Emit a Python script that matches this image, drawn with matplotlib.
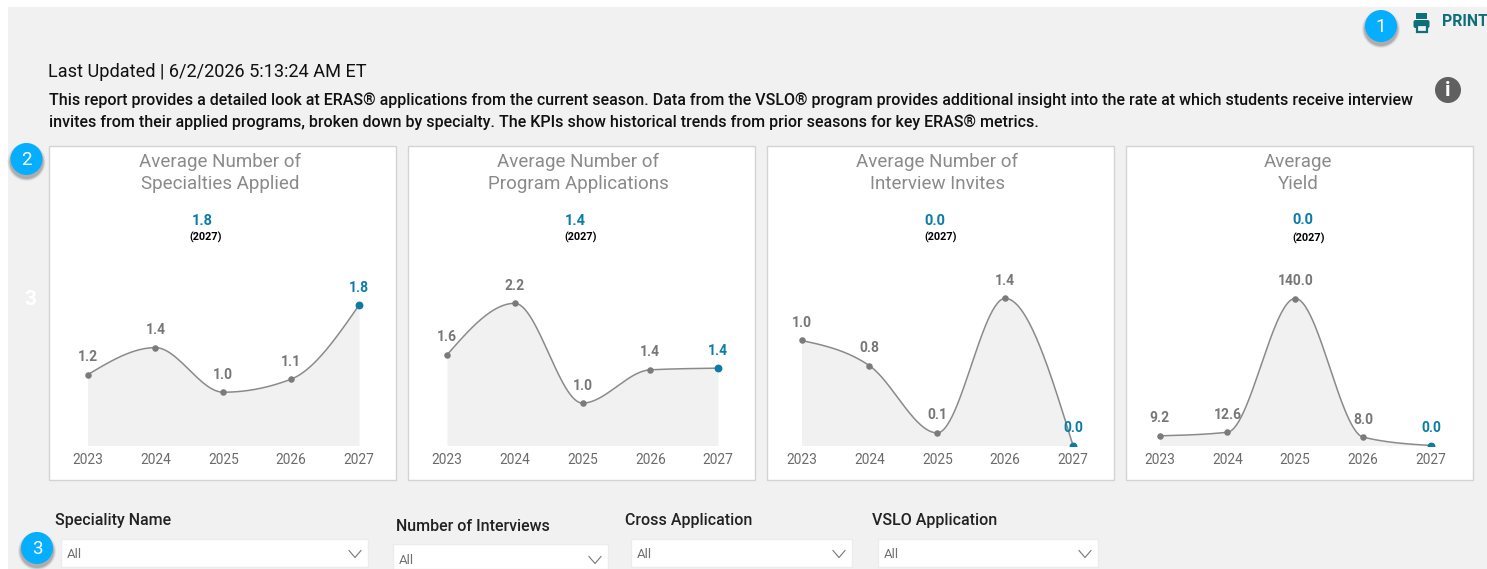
import numpy as np
import matplotlib
matplotlib.use("Agg")
import matplotlib.pyplot as plt
from matplotlib.patches import Rectangle, Circle, FancyBboxPatch

W, H = 1487, 569
FONT = "Roboto"
BLUE = "#0a7ca6"
GRAY = "#7b7b7b"
PANEL_BG = "#f1f1f1"

# ---------------- DATA ----------------
years = [2023, 2024, 2025, 2026, 2027]
specialties = [1.16, 1.41, 1.0, 1.12, 1.8]
programs = [1.58, 2.2, 1.0, 1.4, 1.42]
interviews = [1.0, 0.76, 0.12, 1.4, 0.0]
yields = [9.2, 12.6, 140.0, 8.0, 0.0]

series = [specialties, programs, interviews, yields]
titles = [
    "Average Number of\nSpecialties Applied",
    "Average Number of\nProgram Applications",
    "Average Number of\nInterview Invites",
    "Average\nYield",
]
kpi_values = ["1.8", "1.4", "0.0", "0.0"]
slicer_names = ["Speciality Name", "Number of Interviews", "Cross Application", "VSLO Application"]
updated = "Last Updated | 6/2/2026 5:13:24 AM ET"
intro = [
    "This report provides a detailed look at ERAS® applications from the current season. Data from the VSLO® program provides additional insight into the rate at which students receive interview",
    "invites from their applied programs, broken down by specialty. The KPIs show historical trends from prior seasons for key ERAS® metrics.",
]

# ---------------- LAYOUT (pixels) ----------------
panel_left = [49, 408, 767, 1126]
panel_width = 347
first_year_px = [87.5, 447, 801.5, 1159.5]
last_year_px = [359, 718, 1073, 1431]
y_limits = [(0.51, 1.94), (0.49, 2.36), (0.0, 1.48), (0.0, 148.1)]
title_x = [220, 578, 937, 1298]
kpi_x = [202, 575.5, 935, 1303]
kpi_y = [220, 220, 220, 219]
year_x = [206, 581, 941, 1309]
year_y = [237, 237, 237, 238]
base_y, top_y = 445.5, 290
slicer_label_x = [55, 396, 625, 872]
slicer_label_y = [520.5, 526.5, 520.5, 520.5]
box_x = [(61, 368), (393, 608), (631, 852), (878, 1098)]
box_y = [(539, 567), (544, 569), (539, 567), (539, 567)]
box_text_y = [554.5, 560.5, 554.5, 554.5]
badges = [(1381, 26, "1"), (26.5, 159, "2"), (37, 548, "3")]


def smooth(x, y):
    # monotone cubic so the curve peaks on the points, like the report's spline
    x, y = np.array(x, float), np.array(y, float)
    h = np.diff(x)
    s = np.diff(y) / h
    t = np.zeros(len(x))
    for i in range(1, len(x) - 1):
        p = (s[i - 1] + s[i]) / 2
        t[i] = (np.sign(s[i - 1]) + np.sign(s[i])) * min(abs(s[i - 1]), abs(s[i]), 0.5 * abs(p))
    t[0] = (3 * s[0] - t[1]) / 2
    t[-1] = (3 * s[-1] - t[-2]) / 2
    xs, ys = [], []
    for i in range(len(h)):
        u = np.linspace(0, 1, 60)
        a = (2 * u**3 - 3 * u**2 + 1) * y[i] + (u**3 - 2 * u**2 + u) * h[i] * t[i]
        b = (-2 * u**3 + 3 * u**2) * y[i + 1] + (u**3 - u**2) * h[i] * t[i + 1]
        xs.append(x[i] + u * h[i])
        ys.append(a + b)
    return np.concatenate(xs), np.concatenate(ys)


fig = plt.figure(figsize=(W / 100, H / 100), dpi=100, facecolor="white")

# page level items are placed in pixel coordinates
bg = fig.add_axes([0, 0, 1, 1], zorder=0)
bg.set_xlim(0, W)
bg.set_ylim(H, 0)
bg.axis("off")
bg.add_patch(Rectangle((8, 7), W - 8, H - 7, fc=PANEL_BG, ec="none"))


def label(x, y, s, size, color="black", weight="normal", ha="left", **kw):
    return bg.text(x, y, s, fontsize=size, color=color, fontweight=weight, ha=ha, va="center",
                   family=FONT, **kw)


label(48, 71.5, updated, 13.1, "#111111")
label(49, 100.5, intro[0], 11.5, "#111111", "medium")
label(49, 122, intro[1], 11.5, "#111111", "medium")
label(30, 299, "3", 15, "white", "bold", ha="center")

# printer icon + print link
teal = "#0f6f78"
bg.add_patch(Rectangle((1416, 13), 11, 6, fc=teal, ec="none"))
bg.add_patch(FancyBboxPatch((1413.5, 20), 16, 8, boxstyle="round,pad=0,rounding_size=2", fc=teal, ec="none"))
bg.add_patch(Rectangle((1417, 25), 9.5, 7, fc=PANEL_BG, ec=teal, lw=1.6))
label(1442, 21.5, "PRINT", 11.3, teal, "bold")

# info icon
bg.add_patch(Circle((1448, 90), 13, fc="#606060", ec="none"))
label(1448, 90, "i", 15, "white", "bold", ha="center")

# numbered badges
for bx, by, num in badges:
    for grow, alpha in [(3, 0.06), (2, 0.1), (1, 0.14)]:
        bg.add_patch(Circle((bx, by + 3), 16 + grow, fc="black", alpha=alpha, ec="none"))
    bg.add_patch(Circle((bx, by), 16, fc="#05aeff", ec="none"))
    label(bx, by + 0.5, num, 13.5, "white", ha="center")

# slicers
for i, name in enumerate(slicer_names):
    label(slicer_label_x[i], slicer_label_y[i], name, 11.5, "#222222", "medium")
    (x0, x1), (y0, y1) = box_x[i], box_y[i]
    bg.add_patch(Rectangle((x0, y0), x1 - x0, y1 - y0, fc="white", ec="#ececec", lw=1))
    mid = box_text_y[i]
    label(x0 + 6, mid, "All", 9.5, "#707070")
    cx = x1 - 13
    bg.plot([cx - 6, cx, cx + 6], [mid - 4, mid + 3, mid - 4], color="#777777", lw=0.8)

# ---------------- KPI PANELS ----------------
for i, vals in enumerate(series):
    bg.add_patch(Rectangle((panel_left[i], 146), panel_width, 334, fc="white", ec="#d3d3d3", lw=1.0))
    head = titles[i].split("\n")
    label(title_x[i], 161.5, head[0], 13.5, "#8a8a8a", ha="center")
    label(title_x[i], 183.5, head[1], 13.5, "#8a8a8a", ha="center")
    label(kpi_x[i], kpi_y[i] + 0.5, kpi_values[i], 10.5, BLUE, "bold", ha="center")
    label(year_x[i], year_y[i], "(2027)", 7.8, "black", "bold", ha="center")

    x0, x1 = first_year_px[i], last_year_px[i]
    pad = (x1 - x0) / 4 * 0.3
    ax = fig.add_axes([(x0 - pad) / W, 1 - base_y / H, (x1 - x0 + 2 * pad) / W, (base_y - top_y) / H], zorder=1)
    ax.patch.set_alpha(0)
    ax.set_xlim(years[0] - 0.3, years[-1] + 0.3)
    ax.set_ylim(*y_limits[i])
    for sp in ax.spines.values():
        sp.set_visible(False)
    ax.set_yticks([])
    ax.set_xticks(years)
    ax.tick_params(axis="x", length=0, pad=5.5, labelsize=9.9, labelcolor="#6a6a6a")
    for t in ax.get_xticklabels():
        t.set_family(FONT)

    xs, ys = smooth(years, vals)
    ax.fill_between(xs, ys, y_limits[i][0], color=PANEL_BG, lw=0)
    ax.plot(xs, ys, color="#8a8a8a", lw=1.1)
    ax.scatter(years[:-1], vals[:-1], s=22, color=GRAY, zorder=3, lw=0)
    ax.scatter(years[-1:], vals[-1:], s=32, color=BLUE, zorder=3, lw=0)

    for j, v in enumerate(vals):
        is_last = j == len(vals) - 1
        ax.annotate(f"{v:.1f}", (years[j], v), xytext=(0, 17.5), textcoords="offset pixels",
                    ha="center", va="center", fontsize=10, family=FONT, fontweight="bold",
                    color=BLUE if is_last else "#777777", annotation_clip=False)

fig.savefig("out.png", dpi=100)
plt.close(fig)
